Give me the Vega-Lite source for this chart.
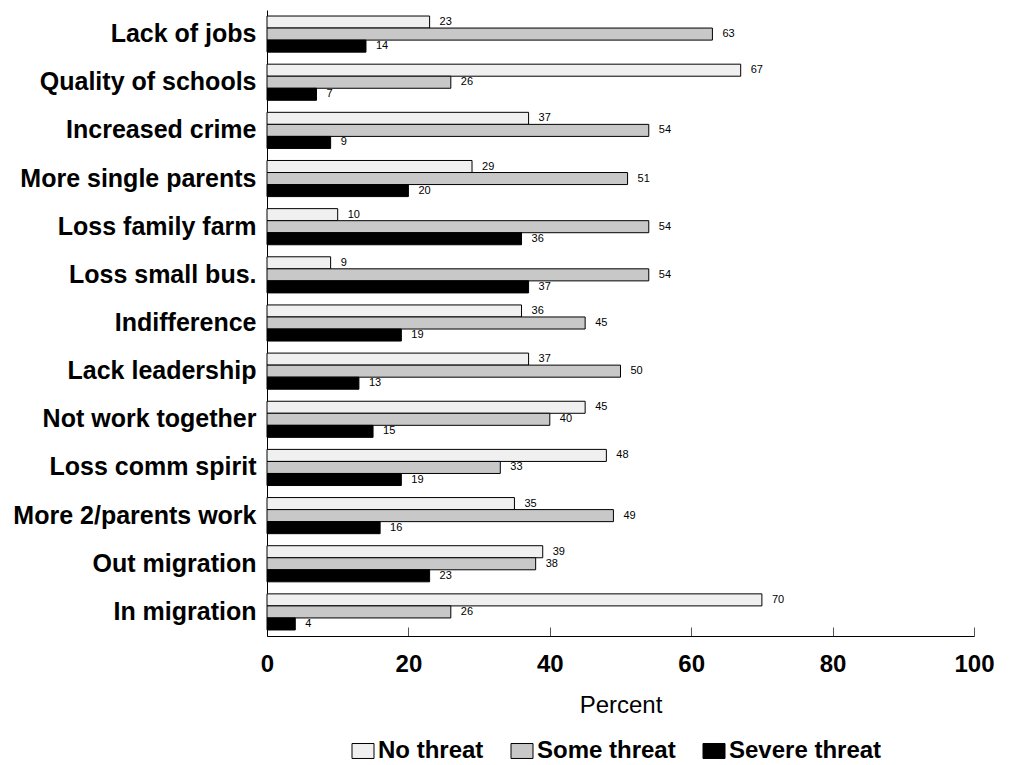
{
  "$schema": "https://vega.github.io/schema/vega-lite/v6.json",
  "width": 707,
  "height": 626,
  "autosize": {"type": "none"},
  "padding": {"left": 267, "top": 10, "right": 37, "bottom": 129},
  "background": "white",
  "config": {
    "font": "Liberation Sans",
    "view": {"stroke": null}
  },
  "data": {
    "values": [
      {"item": "Lack of jobs", "threat": "No threat", "pct": 23},
      {"item": "Lack of jobs", "threat": "Some threat", "pct": 63},
      {"item": "Lack of jobs", "threat": "Severe threat", "pct": 14},
      {"item": "Quality of schools", "threat": "No threat", "pct": 67},
      {"item": "Quality of schools", "threat": "Some threat", "pct": 26},
      {"item": "Quality of schools", "threat": "Severe threat", "pct": 7},
      {"item": "Increased crime", "threat": "No threat", "pct": 37},
      {"item": "Increased crime", "threat": "Some threat", "pct": 54},
      {"item": "Increased crime", "threat": "Severe threat", "pct": 9},
      {"item": "More single parents", "threat": "No threat", "pct": 29},
      {"item": "More single parents", "threat": "Some threat", "pct": 51},
      {"item": "More single parents", "threat": "Severe threat", "pct": 20},
      {"item": "Loss family farm", "threat": "No threat", "pct": 10},
      {"item": "Loss family farm", "threat": "Some threat", "pct": 54},
      {"item": "Loss family farm", "threat": "Severe threat", "pct": 36},
      {"item": "Loss small bus.", "threat": "No threat", "pct": 9},
      {"item": "Loss small bus.", "threat": "Some threat", "pct": 54},
      {"item": "Loss small bus.", "threat": "Severe threat", "pct": 37},
      {"item": "Indifference", "threat": "No threat", "pct": 36},
      {"item": "Indifference", "threat": "Some threat", "pct": 45},
      {"item": "Indifference", "threat": "Severe threat", "pct": 19},
      {"item": "Lack leadership", "threat": "No threat", "pct": 37},
      {"item": "Lack leadership", "threat": "Some threat", "pct": 50},
      {"item": "Lack leadership", "threat": "Severe threat", "pct": 13},
      {"item": "Not work together", "threat": "No threat", "pct": 45},
      {"item": "Not work together", "threat": "Some threat", "pct": 40},
      {"item": "Not work together", "threat": "Severe threat", "pct": 15},
      {"item": "Loss comm spirit", "threat": "No threat", "pct": 48},
      {"item": "Loss comm spirit", "threat": "Some threat", "pct": 33},
      {"item": "Loss comm spirit", "threat": "Severe threat", "pct": 19},
      {"item": "More 2/parents work", "threat": "No threat", "pct": 35},
      {"item": "More 2/parents work", "threat": "Some threat", "pct": 49},
      {"item": "More 2/parents work", "threat": "Severe threat", "pct": 16},
      {"item": "Out migration", "threat": "No threat", "pct": 39},
      {"item": "Out migration", "threat": "Some threat", "pct": 38},
      {"item": "Out migration", "threat": "Severe threat", "pct": 23},
      {"item": "In migration", "threat": "No threat", "pct": 70},
      {"item": "In migration", "threat": "Some threat", "pct": 26},
      {"item": "In migration", "threat": "Severe threat", "pct": 4}
    ]
  },
  "encoding": {
    "y": {
      "field": "item",
      "type": "nominal",
      "sort": null,
      "scale": {"paddingInner": 0.25, "paddingOuter": 0.125},
      "axis": {
        "title": null,
        "ticks": false,
        "domainColor": "black",
        "labelFontSize": 25,
        "labelFontWeight": "bold",
        "labelColor": "black",
        "labelPadding": 11,
        "labelLimit": 300
      }
    },
    "yOffset": {
      "field": "threat",
      "type": "nominal",
      "scale": {"domain": ["No threat", "Some threat", "Severe threat"], "paddingInner": 0, "paddingOuter": 0}
    },
    "x": {
      "field": "pct",
      "type": "quantitative",
      "scale": {"domain": [0, 100], "nice": false},
      "axis": {
        "title": "Percent",
        "titleFontSize": 24,
        "titleFontWeight": "normal",
        "titleColor": "black",
        "titlePadding": 17,
        "values": [0, 20, 40, 60, 80, 100],
        "grid": false,
        "domainColor": "black",
        "tickColor": "#555555",
        "tickSize": -9,
        "labelFlush": false,
        "labelFontSize": 24,
        "labelFontWeight": "bold",
        "labelColor": "black",
        "labelPadding": 25
      }
    }
  },
  "layer": [
    {
      "mark": {"type": "bar", "stroke": "black", "strokeWidth": 1},
      "encoding": {
        "fill": {
          "field": "threat",
          "type": "nominal",
          "scale": {"domain": ["No threat", "Some threat", "Severe threat"], "range": ["#f0f0f0", "#c8c8c8", "#000000"]},
          "legend": {
            "title": null,
            "orient": "none",
            "direction": "horizontal",
            "legendX": 84,
            "legendY": 729,
            "labelFontSize": 24,
            "labelFontWeight": "bold",
            "labelColor": "black",
            "labelOffset": 3,
            "columnPadding": 25,
            "symbolType": "M-1,-0.68L1,-0.68L1,0.68L-1,0.68Z",
            "symbolSize": 484,
            "symbolStrokeColor": "black",
            "symbolStrokeWidth": 1,
            "symbolOpacity": 1
          }
        }
      }
    },
    {
      "mark": {"type": "text", "align": "left", "baseline": "middle", "dx": 10, "fontSize": 11, "color": "black"},
      "encoding": {
        "text": {"field": "pct", "type": "quantitative"}
      }
    }
  ]
}
